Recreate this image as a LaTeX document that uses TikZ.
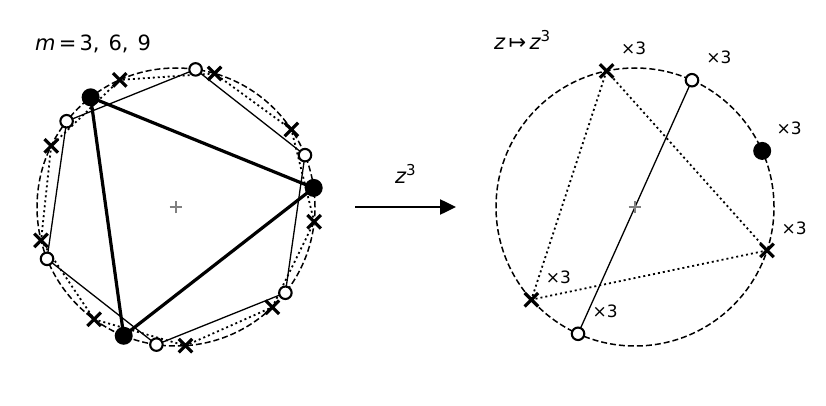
\documentclass[tikz,border=0pt]{standalone}
\usepackage{fontspec}
\setmainfont{DejaVu Sans}
\usetikzlibrary{positioning,shapes.misc,arrows.meta,backgrounds}

\newcommand{\pw}[1]{\raisebox{8pt}{\fontsize{15}{15}\selectfont #1}}

\begin{document}
\begin{tikzpicture}[x=1pt, y=1pt,
        every node/.style={inner sep=0pt, outer sep=0pt},
        full/.style={circle, fill=black, minimum size=18pt},
        hollow/.style={circle, draw=black, fill=white, line width=2.1pt, minimum size=12.5pt},
        crossmark/.style={cross out, draw=black, line width=3.2pt, minimum size=13.5pt},
        centremark/.style={cross out, draw=gray, line width=1.3pt, rotate=45, minimum size=9pt},
        rim/.style={dash pattern=on 6pt off 3pt, line width=1.5pt},
        dots/.style={dash pattern=on 2pt off 3pt, line width=1.8pt},
        tag/.style={font=\fontsize{17}{17}\selectfont},
        head/.style={font=\fontsize{21}{21}\selectfont}]
    \useasboundingbox (0,0) rectangle (826,405);

    % left: the three orbits m = 3, 6, 9
    \node[centremark] (L) at (176,198) {};
    \begin{scope}[shift={(176,198)}]
      \foreach \k in {1,...,9} \node[crossmark] (c\k) at (-6.1+40*\k:139pt) {};
      \foreach \k in {1,...,6} \node[hollow] (o\k) at (-38.1+60*\k:139pt) {};
      \foreach \k in {1,2,3} \node[full] (f\k) at (-112.1+120*\k:139pt) {};
    \end{scope}
    \begin{scope}[on background layer]
      \draw[rim] (L) circle (139pt);
      \draw[dots] (c1.center) \foreach \k in {2,...,9} {-- (c\k.center)} -- cycle;
      \draw[line width=1.3pt] (o1.center) \foreach \k in {2,...,6} {-- (o\k.center)} -- cycle;
      \draw[line width=3.2pt] (f1.center) -- (f2.center) -- (f3.center) -- cycle;
    \end{scope}
    \node[head, anchor=base west] (mtitle) at (35,354)
      {\itshape m\upshape\hspace{3.5pt}=\hspace{3pt}3,\hspace{9pt}6,\hspace{9pt}9};

    % the map
    \coordinate (a1) at (355,198);
    \coordinate (a2) at (456,198);
    \draw[line width=2.5pt, -{Triangle[length=16pt, width=15pt]}] (a1) -- (a2)
      node[midway, above=24pt, head] (zmap) {\itshape z\upshape\pw{3}};

    % right: the images
    \node[centremark] (R) at (635,198) {};
    \begin{scope}[shift={(635,198)}]
      \foreach \k in {1,2,3} \node[crossmark] (rc\k) at (-18.2+120*\k:139pt) {};
      \node[hollow] (ro1) at (65.8:139pt) {};
      \node[hollow] (ro2) at (245.8:139pt) {};
      \node[full] (rf) at (23.8:139pt) {};
    \end{scope}
    \begin{scope}[on background layer]
      \draw[rim] (R) circle (139pt);
      \draw[dots] (rc1.center) -- (rc2.center) -- (rc3.center) -- cycle;
      \draw[line width=1.3pt] (ro1.center) -- (ro2.center);
    \end{scope}
    \foreach \p in {rc1,rc2,rc3,ro1,ro2,rf}
      \node[tag] (t\p) at ([shift={(27,22.5)}]\p) {×3};
    \node[head, anchor=base west] (ztitle) at (494,355)
      {\itshape z\upshape\hspace{3.5pt}↦\hspace{3.5pt}\itshape z\upshape\pw{3}};
\end{tikzpicture}
\end{document}
